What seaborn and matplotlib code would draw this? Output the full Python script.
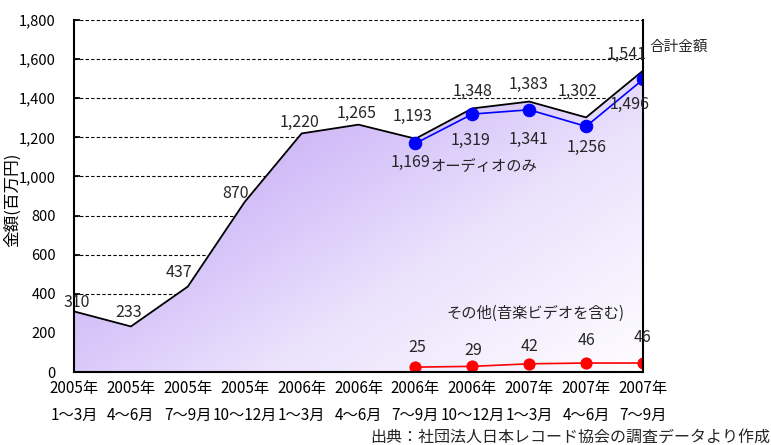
import numpy as np
import pandas as pd
import seaborn as sns
import matplotlib.pyplot as plt
from matplotlib.colors import LinearSegmentedColormap

# data
periods = ["2005年\n1～3月", "2005年\n4～6月", "2005年\n7～9月", "2005年\n10～12月",
           "2006年\n1～3月", "2006年\n4～6月", "2006年\n7～9月", "2006年\n10～12月",
           "2007年\n1～3月", "2007年\n4～6月", "2007年\n7～9月"]
total = [310, 233, 437, 870, 1220, 1265, 1193, 1348, 1383, 1302, 1541]
audio = [1169, 1319, 1341, 1256, 1496]   # from 2006年7～9月
other = [25, 29, 42, 46, 46]             # from 2006年7～9月

# label nudges in pixels (dx, dy)
total_off = [(3, 9), (-2, 14), (-9, 14), (-9, 8), (-2, 11), (-2, 11),
             (-3, 22), (0, 17), (-1, 17), (-9, 26), (-16, 16)]
audio_off = [(-5, -19), (-2, -26), (-1, -30), (1, -21), (-13, -25)]
other_off = [(2, 20), (1, 16), (0, 17), (0, 23), (-1, 26)]

sns.set_theme(style="white")
plt.rcParams['font.family'] = ['Noto Sans CJK JP', 'DejaVu Sans']

fig = plt.figure(figsize=(7.71, 4.45), dpi=100)
ax = fig.add_axes([0.096, 0.164, 0.738, 0.791])

x_all = np.arange(len(total))
x_sub = x_all[len(total) - len(audio):]
df_total = pd.DataFrame({"x": x_all, "v": total})
df_sub = pd.DataFrame({"x": x_sub, "audio": audio, "other": other})

# gradient area under the total line (dark top-left -> white bottom-right)
poly = ax.fill_between(df_total["x"], df_total["v"], 0, color="none", lw=0)
xx, yy = np.meshgrid(np.linspace(0, 1, 300), np.linspace(0, 1, 300))
z = 0.55 * (1 - xx) + 0.45 * yy
cmap = LinearSegmentedColormap.from_list(
    "lav", [(0, "#fefdff"), (0.37, "#ebe2fc"), (0.55, "#dacafa"),
            (0.75, "#ccb2f6"), (1, "#c2a0f3")])
im = ax.imshow(z, cmap=cmap, vmin=0, vmax=1, extent=[0, 10, 0, max(total)],
               origin="lower", aspect="auto", zorder=1, interpolation="bilinear")
im.set_clip_path(poly.get_paths()[0], transform=ax.transData)

sns.lineplot(data=df_total, x="x", y="v", color="black", lw=1.3, ax=ax, zorder=3)
sns.lineplot(data=df_sub, x="x", y="audio", color="blue", lw=1.2, marker="o",
             markersize=9, markeredgecolor="blue", ax=ax, zorder=4)
sns.lineplot(data=df_sub, x="x", y="other", color="red", lw=1.2, marker="o",
             markersize=8, markeredgecolor="red", ax=ax, zorder=4)

ax.set_xlim(0, 10)
ax.set_ylim(0, 1800)
ax.set_yticks(range(0, 1801, 200))
ax.set_yticklabels([f"{v:,}" for v in range(0, 1801, 200)], fontsize=10.5)
ax.set_xticks(x_all)
ax.set_xticklabels(periods, linespacing=1.75, fontsize=11)
ax.tick_params(axis="both", direction="in", length=4, color="black",
               labelcolor="black", left=True, bottom=True)
ax.tick_params(axis="y", pad=13)
ax.tick_params(axis="x", pad=6)

ax.yaxis.grid(True, ls=(0, (3, 2)), color="black", lw=0.8)
ax.set_axisbelow(True)
for side in ["left", "bottom", "right"]:
    ax.spines[side].set_color("black")
    ax.spines[side].set_linewidth(1.5)
    ax.spines[side].set_zorder(5)
ax.spines["top"].set_visible(False)

ax.set_xlabel("")
ax.set_ylabel("金額(百万円)", fontsize=12, color="black")
ax.yaxis.set_label_coords(-0.093, 0.489)

for x, v, (dx, dy) in zip(x_all, total, total_off):
    ax.annotate(f"{v:,}", (x, v), xytext=(dx, dy), textcoords="offset pixels",
                ha="center", va="center", fontsize=11.5, zorder=6)
for x, v, (dx, dy) in zip(x_sub, audio, audio_off):
    ax.annotate(f"{v:,}", (x, v), xytext=(dx, dy), textcoords="offset pixels",
                ha="center", va="center", fontsize=11.5, zorder=6)
for x, v, (dx, dy) in zip(x_sub, other, other_off):
    ax.annotate(f"{v:,}", (x, v), xytext=(dx, dy), textcoords="offset pixels",
                ha="center", va="center", fontsize=11.5, zorder=6)

ax.text(1.012, 0.923, "合計金額", transform=ax.transAxes, ha="left",
        va="center", fontsize=10.5)
ax.text(0.626, 0.585, "オーディオのみ", transform=ax.transAxes, ha="left",
        va="center", fontsize=11, zorder=6)
ax.text(0.655, 0.168, "その他(音楽ビデオを含む)", transform=ax.transAxes,
        ha="left", va="center", fontsize=11, zorder=6)
fig.text(0.999, 0.018, "出典：社団法人日本レコード協会の調査データより作成",
         ha="right", va="center", fontsize=11.5)

fig.savefig("out.png", dpi=100)
